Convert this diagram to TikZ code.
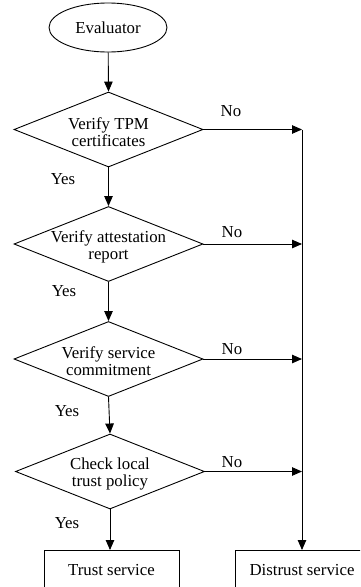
\documentclass[tikz,border=0pt]{standalone}
\usepackage{fontspec}
\setmainfont{Liberation Serif}
\usetikzlibrary{shapes.geometric,arrows.meta}
\begin{document}
\begin{tikzpicture}[x=1pt,y=-1pt,
  every node/.style={font=\fontsize{16.8}{17}\selectfont},
  base/.style={line width=0.9pt},
  dia/.style={base,draw,diamond,inner sep=0pt,minimum width=189pt,minimum height=75pt},
  lab/.style={align=center,inner sep=0pt},
  boxn/.style={base,draw,rectangle,inner sep=0pt,anchor=north,minimum height=40pt},
  arr/.style={base,-{Triangle[length=10pt,width=8.5pt]}},
  plain/.style={inner sep=0pt}]
\useasboundingbox (0,0) rectangle (360,587);
\clip (0,0) rectangle (360,587);
\node[base,draw,ellipse,inner sep=0pt,minimum width=118pt,minimum height=49pt] (ev) at (108,27.5) {Evaluator};
\node[dia] (d1) at (108.5,129.5) {};
\node[lab] (t1) at (108.5,132) {Verify TPM\\certificates};
\node[dia] (d2) at (108.5,244) {};
\node[lab] (t2) at (108.5,246.5) {Verify attestation\\report};
\node[dia] (d3) at (108.5,359) {};
\node[lab] (t3) at (108.5,361.5) {Verify service\\commitment};
\node[dia] (d4) at (110,471.5) {};
\node[lab] (t4) at (110,474) {Check local\\trust policy};
\node[boxn,minimum width=135pt] (trust) at (111.5,550) {Trust service};
\node[boxn,minimum width=134pt] (dist) at (302,550) {Distrust service};
\coordinate (j1) at (d1.east -| dist.north);
\coordinate (j2) at (d2.east -| dist.north);
\coordinate (j3) at (d3.east -| dist.north);
\coordinate (j4) at (d4.east -| dist.north);
\draw[arr] (ev) -- (d1.north);
\draw[arr] (d1.south) -- (d2.north);
\draw[arr] (d2.south) -- (d3.north);
\draw[arr] (d3.south) -- (d4.north);
\draw[arr] (d4.south) -- (d4.south |- trust.north);
\draw[arr] (d1.east) -- (j1);
\draw[arr] (d2.east) -- (j2);
\draw[arr] (d3.east) -- (j3);
\draw[arr] (d4.east) -- (j4);
\draw[arr] (j1) -- (dist.north);
\node[plain] (n1) at (231,111) {No};
\node[plain] (n2) at (232,232) {No};
\node[plain] (n3) at (232,349) {No};
\node[plain] (n4) at (232,462) {No};
\node[plain] (y1) at (63,179) {Yes};
\node[plain] (y2) at (64,291) {Yes};
\node[plain] (y3) at (67,411) {Yes};
\node[plain] (y4) at (67,523) {Yes};
\end{tikzpicture}
\end{document}
